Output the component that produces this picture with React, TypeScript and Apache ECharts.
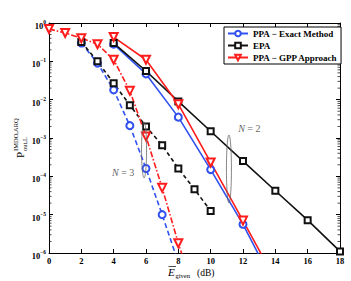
import { useEffect, useRef } from 'react';
import * as echarts from 'echarts';

// N = 2 (solid)
const exactN2X = [4, 6, 8, 10, 12, 14];
const exactN2Y = [0.28, 0.047, 3.5e-3, 1.5e-4, 5.6e-6, 1.3e-7];
const epaN2X = [4, 6, 8, 10, 12, 14, 16, 18];
const epaN2Y = [0.3, 0.056, 9e-3, 1.5e-3, 2.5e-4, 4.2e-5, 7.2e-6, 1.1e-6];
const gppN2X = [4, 6, 8, 10, 12, 14];
const gppN2Y = [0.43, 0.11, 7.6e-3, 2.3e-4, 7e-6, 2e-7];
// N = 3 (dashed)
const exactN3X = [2, 3, 4, 5, 6, 7, 8];
const exactN3Y = [0.3, 0.09, 0.018, 2.1e-3, 1.6e-4, 1e-5, 5.6e-7];
const epaN3X = [2, 3, 4, 5, 6, 7, 8, 9, 10];
const epaN3Y = [0.32, 0.1, 0.027, 7.2e-3, 2e-3, 6.5e-4, 1.6e-4, 4.6e-5, 1.25e-5];
const gppN3X = [0, 1, 2, 3, 4, 5, 6, 7, 8, 9];
const gppN3Y = [0.7, 0.55, 0.4, 0.28, 0.11, 0.017, 1.1e-3, 5e-5, 1.8e-6, 9e-8];

const legendNames = ['PPA − Exact Method', 'EPA', 'PPA − GPP Approach'];
const minorMantissas = [2, 3, 4, 5, 6, 7, 8, 9];
const decades = [-6, -5, -4, -3, -2, -1];

const BLUE = '#3050f0';
const BLACK = '#111111';
const RED = '#ff1c1c';
const FONT = '"Liberation Serif", "DejaVu Serif", serif';

function pairs(xs: number[], ys: number[]) {
  return xs.map((x, i) => [x, ys[i]]);
}

export default function App() {
  const ref = useRef<HTMLDivElement>(null);
  useEffect(() => {
    if (!ref.current) return;
    document.body.style.margin = '0';
    const chart = echarts.init(ref.current, undefined, { renderer: 'svg' });
    const minorData: number[][] = [];
    decades.forEach((d) => minorMantissas.forEach((m) => minorData.push([0, m * Math.pow(10, d)])));

    const mk = (name: string, xs: number[], ys: number[], color: string, symbol: string, dash: any, size = 7, rot = 0) => ({
      name,
      type: 'line',
      data: pairs(xs, ys),
      symbol,
      symbolSize: size,
      symbolRotate: rot,
      showAllSymbol: true,
      clip: true,
      lineStyle: { color, width: 1.6, type: dash },
      itemStyle: { color, borderColor: color, borderWidth: 1.4 },
      emphasis: { disabled: true },
      z: 3,
    });

    const axisCommon = {
      type: 'value',
      min: 0,
      max: 18,
      interval: 2,
      axisLine: { show: true, onZero: false, lineStyle: { color: '#000', width: 1 } },
      axisTick: { show: true, inside: true, length: 4, lineStyle: { color: '#000' } },
      splitLine: { show: false },
    };
    const yCommon = {
      type: 'log',
      logBase: 10,
      min: 1e-6,
      max: 1,
      splitNumber: 6,
      axisLine: { show: true, onZero: false, lineStyle: { color: '#000', width: 1 } },
      axisTick: { show: true, inside: true, length: 4, lineStyle: { color: '#000' } },
      splitLine: { show: false },
      minorTick: { show: false },
    };

    chart.setOption({
      animation: false,
      backgroundColor: '#fff',
      grid: { left: 49, right: 11, top: 23, bottom: 28 },
      legend: {
        data: legendNames,
        orient: 'vertical',
        left: 224,
        top: 27,
        itemWidth: 20,
        itemHeight: 7,
        itemGap: 3,
        padding: [2, 3, 2, 3],
        borderColor: '#000',
        borderWidth: 1,
        backgroundColor: '#fff',
        textStyle: { fontFamily: FONT, fontWeight: 'bold', fontSize: 9, color: '#000' },
        selectedMode: false,
      },
      xAxis: [
        {
          ...axisCommon,
          position: 'bottom',
          axisLabel: { fontFamily: FONT, fontWeight: 'bold', fontSize: 8.5, color: '#000', margin: 3 },
        },
        { ...axisCommon, position: 'top', axisLabel: { show: false } },
      ],
      yAxis: [
        {
          ...yCommon,
          position: 'left',
          axisLabel: {
            margin: 3,
            formatter: (v: number) => {
              const e = Math.round(Math.log10(v));
              return `{b|10}{s|${e < 0 ? '−' + -e : e}}`;
            },
            rich: {
              b: { fontFamily: FONT, fontWeight: 'bold', fontSize: 8.5, color: '#000', padding: [6, 0, 0, 0] },
              s: { fontFamily: FONT, fontWeight: 'bold', fontSize: 5.5, color: '#000', padding: [0, 0, 2, 0] },
            },
          },
        },
        { ...yCommon, position: 'right', axisLabel: { show: false } },
      ],
      series: [
        mk(legendNames[0], exactN2X, exactN2Y, BLUE, 'emptyCircle', 'solid'),
        mk(legendNames[1], epaN2X, epaN2Y, BLACK, 'emptyRect', 'solid', 6),
        mk(legendNames[2], gppN2X, gppN2Y, RED, 'emptyTriangle', 'solid', 8, 180),
        mk(legendNames[0], exactN3X, exactN3Y, BLUE, 'emptyCircle', [5, 3]),
        mk(legendNames[1], epaN3X, epaN3Y, BLACK, 'emptyRect', [4, 3], 6),
        mk(legendNames[2], gppN3X, gppN3Y, RED, 'emptyTriangle', [6, 2, 1.5, 2], 8, 180),
        {
          type: 'custom',
          data: minorData,
          silent: true,
          z: 1,
          renderItem: (params: any, api: any) => {
            const v = api.value(1);
            const l = api.coord([0, v]);
            const r = api.coord([18, v]);
            const st = { stroke: '#000', lineWidth: 0.7 };
            return {
              type: 'group',
              children: [
                { type: 'line', shape: { x1: l[0], y1: l[1], x2: l[0] + 2.5, y2: l[1] }, style: st },
                { type: 'line', shape: { x1: r[0], y1: r[1], x2: r[0] - 2.5, y2: r[1] }, style: st },
              ],
            };
          },
        },
      ],
    });

    const px = (x: number, y: number) => chart.convertToPixel({ xAxisIndex: 0, yAxisIndex: 0 }, [x, y]) as number[];
    const e3 = px(5.88, Math.pow(10, -3.31));
    const e2 = px(11.13, Math.pow(10, -3.81));
    const t3 = px(3.9, Math.pow(10, -3.89));
    const t2 = px(11.7, Math.pow(10, -2.74));
    const gray = '#666';
    const annStyle = {
      fill: gray,
      fontFamily: FONT,
      fontSize: 10,
      rich: { i: { fontStyle: 'italic', fontFamily: FONT, fontSize: 10, fill: gray } },
    };
    chart.setOption({
      graphic: [
        { type: 'ellipse', shape: { cx: e3[0], cy: e3[1], rx: 2.5, ry: 28 }, style: { fill: 'none', stroke: gray, lineWidth: 0.8 }, z: 10 },
        { type: 'ellipse', shape: { cx: e2[0], cy: e2[1], rx: 2.5, ry: 34 }, style: { fill: 'none', stroke: gray, lineWidth: 0.8 }, z: 10 },
        { type: 'text', x: t3[0], y: t3[1], style: { ...annStyle, text: '{i|N} = 3', verticalAlign: 'middle' }, z: 10 },
        { type: 'text', x: t2[0], y: t2[1], style: { ...annStyle, text: '{i|N} = 2', verticalAlign: 'middle' }, z: 10 },
        // y-axis title
        {
          type: 'group',
          x: 20,
          y: 158,
          rotation: Math.PI / 2,
          children: [
            { type: 'text', x: 0, y: 0, style: { text: 'P', fontFamily: FONT, fontSize: 11, fill: '#000', verticalAlign: 'middle' } },
            { type: 'text', x: 7, y: -5, style: { text: 'IMDO,ARQ', fontFamily: FONT, fontSize: 6.5, fill: '#000', verticalAlign: 'middle' } },
            { type: 'text', x: 7, y: 4, style: { text: 'out,L', fontFamily: FONT, fontSize: 6.5, fill: '#000', verticalAlign: 'middle' } },
          ],
        },
        // x-axis title
        {
          type: 'group',
          x: 168,
          y: 272,
          z: 20,
          children: [
            { type: 'text', x: 0, y: 0, style: { text: 'E', fontFamily: FONT, fontStyle: 'italic', fontSize: 11, fill: '#000', verticalAlign: 'middle' } },
            { type: 'line', shape: { x1: 0.5, y1: -5.5, x2: 8, y2: -5.5 }, style: { stroke: '#000', lineWidth: 0.7 } },
            { type: 'text', x: 7.5, y: 3, style: { text: 'given', fontFamily: FONT, fontSize: 6.5, fill: '#000', verticalAlign: 'middle' } },
            { type: 'text', x: 29, y: 0.5, style: { text: '(dB)', fontFamily: FONT, fontSize: 9.5, fill: '#000', verticalAlign: 'middle' } },
          ],
        },
      ],
    });
    return () => chart.dispose();
  }, []);
  return <div ref={ref} style={{ width: 351, height: 281 }} />;
}
